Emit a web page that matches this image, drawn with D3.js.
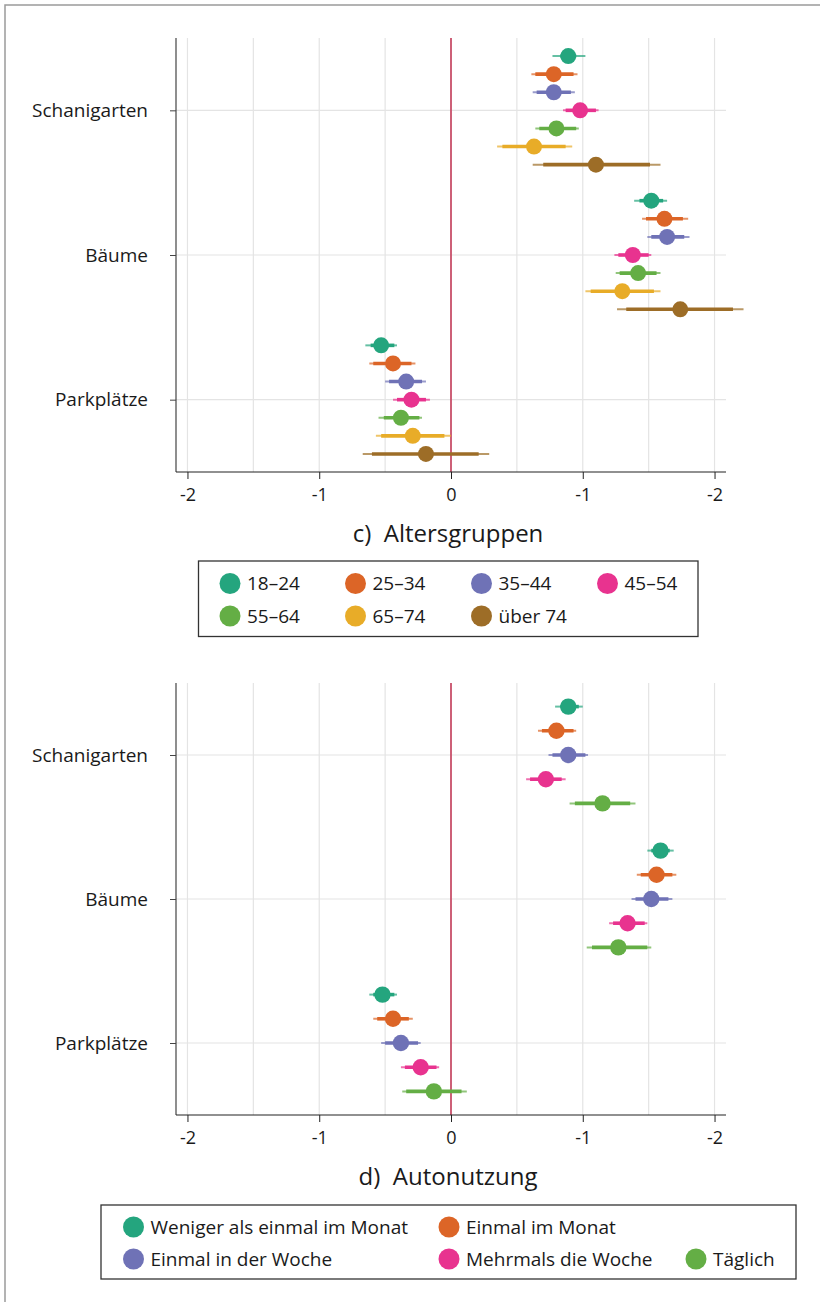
<!DOCTYPE html>
<html>
<head>
<meta charset="utf-8">
<script src="https://cdn.jsdelivr.net/npm/d3@7"></script>
<style>
  html, body { margin: 0; padding: 0; background: #fff; }
  svg text { font-family: "Open Sans", "Noto Sans", sans-serif; fill: #1a1a1a; }
</style>
</head>
<body>
<svg id="chart" width="820" height="1302"></svg>
<script>
// Rows shared by both panels
const categories = ["Schanigarten", "Bäume", "Parkplätze"];

// x-axis ticks (labels as printed on the axis)
const tickValues = [-2, -1, 0, 1, 2];
const tickLabels = ["-2", "-1", "0", "-1", "-2"];

// Panel c) age groups
const ageGroups = ["18–24", "25–34", "35–44", "45–54", "55–64", "65–74", "über 74"];
const ageColors = ["#24a57e", "#dc6527", "#6f72b6", "#e8338f", "#64ae45", "#e8ac28", "#9d6d27"];
// one row per category, one value per age group
const ageEstimate = [
  [0.89, 0.78, 0.78, 0.98, 0.80, 0.63, 1.10],
  [1.52, 1.62, 1.64, 1.38, 1.42, 1.30, 1.74],
  [-0.53, -0.44, -0.34, -0.30, -0.38, -0.29, -0.19]
];
const ageOuterLow = [
  [0.77, 0.61, 0.62, 0.85, 0.64, 0.35, 0.62],
  [1.39, 1.45, 1.49, 1.24, 1.25, 1.02, 1.26],
  [-0.65, -0.62, -0.50, -0.44, -0.55, -0.57, -0.67]
];
const ageOuterHigh = [
  [1.02, 0.96, 0.94, 1.12, 0.97, 0.92, 1.59],
  [1.64, 1.80, 1.81, 1.52, 1.59, 1.59, 2.22],
  [-0.41, -0.27, -0.19, -0.16, -0.22, 0.00, 0.29]
];
const ageInnerLow = [
  [0.83, 0.64, 0.65, 0.87, 0.67, 0.39, 0.70],
  [1.43, 1.48, 1.52, 1.27, 1.28, 1.06, 1.33],
  [-0.61, -0.59, -0.47, -0.41, -0.51, -0.53, -0.60]
];
const ageInnerHigh = [
  [0.95, 0.93, 0.91, 1.10, 0.95, 0.87, 1.51],
  [1.61, 1.76, 1.77, 1.50, 1.56, 1.54, 2.14],
  [-0.43, -0.30, -0.22, -0.19, -0.24, -0.05, 0.21]
];

// Panel d) car use
const carGroups = ["Weniger als einmal im Monat", "Einmal im Monat", "Einmal in der Woche", "Mehrmals die Woche", "Täglich"];
const carColors = ["#24a57e", "#dc6527", "#6f72b6", "#e8338f", "#64ae45"];
const carEstimate = [
  [0.89, 0.80, 0.89, 0.72, 1.15],
  [1.59, 1.56, 1.52, 1.34, 1.27],
  [-0.52, -0.44, -0.38, -0.23, -0.13]
];
const carOuterLow = [
  [0.79, 0.66, 0.74, 0.57, 0.90],
  [1.49, 1.41, 1.37, 1.20, 1.03],
  [-0.62, -0.59, -0.53, -0.38, -0.37]
];
const carOuterHigh = [
  [1.00, 0.95, 1.04, 0.87, 1.40],
  [1.69, 1.71, 1.68, 1.49, 1.52],
  [-0.41, -0.29, -0.23, -0.09, 0.12]
];
const carInnerLow = [
  [0.83, 0.69, 0.77, 0.60, 0.94],
  [1.52, 1.44, 1.40, 1.23, 1.07],
  [-0.59, -0.56, -0.50, -0.35, -0.34]
];
const carInnerHigh = [
  [0.97, 0.93, 1.02, 0.84, 1.36],
  [1.66, 1.68, 1.65, 1.47, 1.49],
  [-0.43, -0.32, -0.25, -0.11, 0.08]
];

const svg = d3.select("#chart");

// outer frame
svg.append("rect")
  .attr("x", 5).attr("y", 5).attr("width", 830).attr("height", 1320)
  .attr("fill", "none").attr("stroke", "#9a9a9a").attr("stroke-width", 1.5);

const x = d3.scaleLinear().domain([-2.087, 2.087]).range([176, 726]);

function drawPanel(opts) {
  const { top, bottom, groups, colors, est, oLo, oHi, iLo, iHi, offset, radius, title } = opts;
  const g = svg.append("g");
  const y = d3.scalePoint().domain(categories).range([top, bottom]).padding(0.5);
  const dy = d3.scalePoint().domain(groups).range([-offset, offset]);

  // vertical grid every half unit
  const gridX = d3.range(-2, 2.01, 0.5);
  g.selectAll("line.vgrid").data(gridX).join("line")
    .attr("x1", d => x(d)).attr("x2", d => x(d))
    .attr("y1", top).attr("y2", bottom)
    .attr("stroke", "#e4e4e4").attr("stroke-width", 1.2);
  // horizontal grid at categories
  g.selectAll("line.hgrid").data(categories).join("line")
    .attr("x1", x.range()[0]).attr("x2", x.range()[1])
    .attr("y1", d => y(d)).attr("y2", d => y(d))
    .attr("stroke", "#e4e4e4").attr("stroke-width", 1.2);

  // zero reference
  g.append("line")
    .attr("x1", x(0)).attr("x2", x(0)).attr("y1", top).attr("y2", bottom)
    .attr("stroke", "#c9506a").attr("stroke-width", 1.8);

  // flatten rows
  const rows = [];
  categories.forEach((c, ci) => {
    groups.forEach((s, si) => {
      rows.push({ c, s, color: colors[si], est: est[ci][si],
        oLo: oLo[ci][si], oHi: oHi[ci][si], iLo: iLo[ci][si], iHi: iHi[ci][si] });
    });
  });
  const yy = d => y(d.c) + dy(d.s);

  g.selectAll("line.outer").data(rows).join("line")
    .attr("x1", d => x(d.oLo)).attr("x2", d => x(d.oHi))
    .attr("y1", yy).attr("y2", yy)
    .attr("stroke", d => d.color).attr("stroke-width", 2).attr("stroke-opacity", 0.7);
  g.selectAll("line.inner").data(rows).join("line")
    .attr("x1", d => x(d.iLo)).attr("x2", d => x(d.iHi))
    .attr("y1", yy).attr("y2", yy)
    .attr("stroke", d => d.color).attr("stroke-width", 3.6);
  g.selectAll("circle.pt").data(rows).join("circle")
    .attr("cx", d => x(d.est)).attr("cy", yy).attr("r", radius)
    .attr("fill", d => d.color);

  // y axis
  const yAxis = g.append("g").attr("transform", `translate(${x.range()[0]},0)`)
    .call(d3.axisLeft(y).tickSize(6).tickPadding(22));
  yAxis.select(".domain").attr("stroke", "#444").attr("stroke-width", 1.2)
    .attr("d", `M0,${top}V${bottom}`);
  yAxis.selectAll(".tick line").attr("stroke", "#444");
  yAxis.selectAll(".tick text").attr("font-size", 19).attr("fill", "#1a1a1a");

  // x axis
  const xAxis = g.append("g").attr("transform", `translate(0,${bottom})`)
    .call(d3.axisBottom(x).tickValues(tickValues)
      .tickFormat((d, i) => tickLabels[i]).tickSize(7).tickPadding(9));
  xAxis.select(".domain").attr("stroke", "#222").attr("stroke-width", 1.2)
    .attr("d", `M${x.range()[0]},0H${x.range()[1]}`);
  xAxis.selectAll(".tick line").attr("stroke", "#222");
  xAxis.selectAll(".tick text").attr("font-size", 18).attr("fill", "#1a1a1a");

  g.append("text")
    .attr("x", 448).attr("y", bottom + 70)
    .attr("text-anchor", "middle").attr("font-size", 24)
    .style("white-space", "pre")
    .text(title);
}

function drawLegend(opts) {
  const { left, topY, width, height, groups, colors, positions, fontSize } = opts;
  const g = svg.append("g");
  g.append("rect").attr("x", left).attr("y", topY).attr("width", width).attr("height", height)
    .attr("fill", "#fff").attr("stroke", "#333").attr("stroke-width", 1.3);
  const items = g.selectAll("g.item").data(groups).join("g")
    .attr("transform", (d, i) => `translate(${positions[i][0]},${positions[i][1]})`);
  items.append("circle").attr("r", 10.5).attr("fill", (d, i) => colors[i]);
  items.append("text").attr("x", 17).attr("dy", "0.35em")
    .attr("font-size", fontSize).text(d => d);
}

drawPanel({
  top: 38, bottom: 472, groups: ageGroups, colors: ageColors,
  est: ageEstimate, oLo: ageOuterLow, oHi: ageOuterHigh, iLo: ageInnerLow, iHi: ageInnerHigh,
  offset: 54.3, radius: 8, title: "c)  Altersgruppen"
});

drawLegend({
  left: 198.5, topY: 561, width: 499.5, height: 75.5,
  groups: ageGroups, colors: ageColors, fontSize: 19,
  positions: [[230, 583.5], [355.5, 583.5], [481.5, 583.5], [607.5, 583.5],
              [230, 616], [355.5, 616], [481.5, 616]]
});

drawPanel({
  top: 683, bottom: 1115, groups: carGroups, colors: carColors,
  est: carEstimate, oLo: carOuterLow, oHi: carOuterHigh, iLo: carInnerLow, iHi: carInnerHigh,
  offset: 48.4, radius: 8.2, title: "d)  Autonutzung"
});

drawLegend({
  left: 101, topY: 1205, width: 695, height: 74,
  groups: carGroups, colors: carColors, fontSize: 19,
  positions: [[133.5, 1227], [449, 1227], [133.5, 1259], [449, 1259], [696, 1259]]
});
</script>
</body>
</html>
